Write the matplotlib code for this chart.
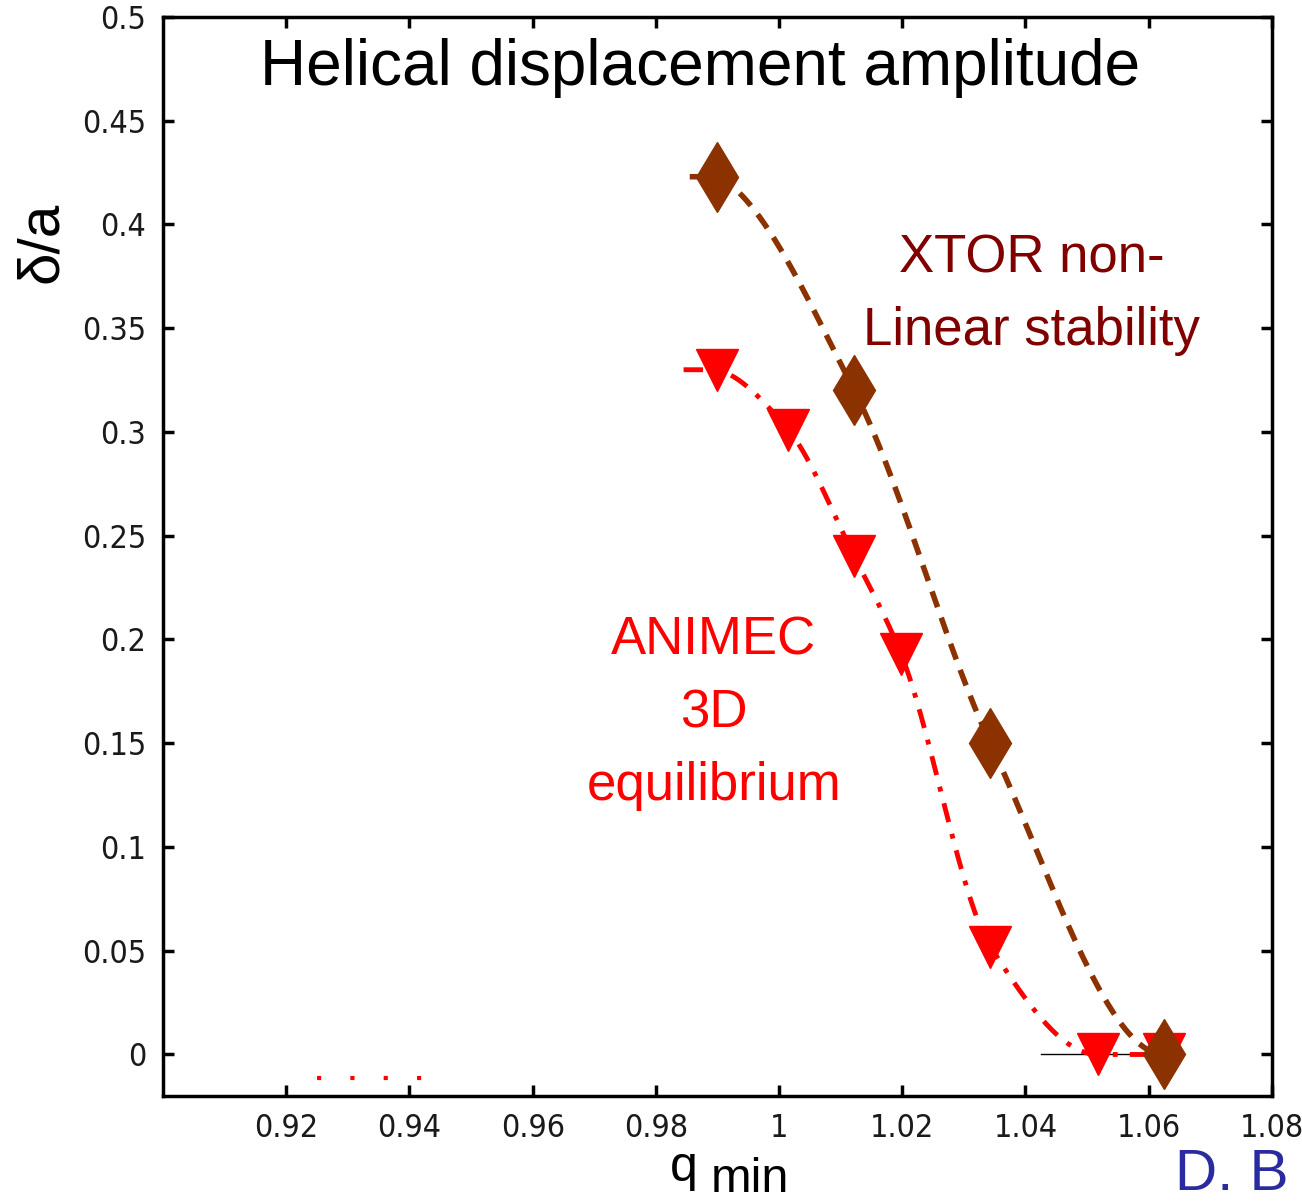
import numpy as np
import matplotlib.pyplot as plt

# data
xtor_q = [0.990, 1.0122, 1.0343, 1.0625]
xtor_d = [0.423, 0.320, 0.150, 0.0]
animec_q = [0.990, 1.0015, 1.0122, 1.0198, 1.0343, 1.0517, 1.0625]
animec_d = [0.330, 0.301, 0.240, 0.193, 0.052, 0.0, 0.0]

x_ticks = [0.92, 0.94, 0.96, 0.98, 1.0, 1.02, 1.04, 1.06, 1.08]
x_ticklabels = ['0.92', '0.94', '0.96', '0.98', '1', '1.02', '1.04', '1.06', '1.08']
y_ticks = [0, 0.05, 0.1, 0.15, 0.2, 0.25, 0.3, 0.35, 0.4, 0.45, 0.5]
y_ticklabels = ['0', '0.05', '0.1', '0.15', '0.2', '0.25', '0.3', '0.35', '0.4', '0.45', '0.5']

brown = '#8C3200'
red = '#FF0000'


def pchip(x, y, n=200):
    # monotone cubic through the points, only used to draw the smooth guide line
    x = np.asarray(x, float)
    y = np.asarray(y, float)
    h = np.diff(x)
    d = np.diff(y) / h
    m = np.zeros_like(y)
    for k in range(1, len(x) - 1):
        if d[k - 1] * d[k] > 0:
            w1 = 2 * h[k] + h[k - 1]
            w2 = h[k] + 2 * h[k - 1]
            m[k] = (w1 + w2) / (w1 / d[k - 1] + w2 / d[k])
    m[0] = d[0] * 0.3
    m[-1] = 0.0
    xs, ys = [], []
    for k in range(len(x) - 1):
        t = np.linspace(0, 1, n)
        h00 = 2 * t**3 - 3 * t**2 + 1
        h10 = t**3 - 2 * t**2 + t
        h01 = -2 * t**3 + 3 * t**2
        h11 = t**3 - t**2
        xs.append(x[k] + t * h[k])
        ys.append(h00 * y[k] + h10 * h[k] * m[k] + h01 * y[k + 1] + h11 * h[k] * m[k + 1])
    return np.concatenate(xs), np.concatenate(ys)


plt.rcParams['font.family'] = ['Liberation Sans', 'DejaVu Sans']

fig = plt.figure(figsize=(13.02, 12.02), dpi=100)
ax = fig.add_axes([0.1252, 0.0882, 0.8517, 0.8977])

# thin zero line at the right end
ax.plot([1.0425, 1.0625], [0, 0], color='black', lw=1.0, zorder=1)

# red curve (dash-dot) and markers
xs, ys = pchip(animec_q, animec_d)
xs = np.concatenate([[animec_q[0] - 0.0055], xs])
ys = np.concatenate([[animec_d[0]], ys])
ax.plot(xs, ys, color=red, lw=3.5, dashes=(4, 2.5, 1, 2.5), zorder=2)
ax.plot(animec_q, animec_d, linestyle='none', marker='v', ms=30,
        color=red, mec=red, zorder=3)

# clipped red bits near the bottom left
ax.plot([0.925, 0.944], [-0.0115, -0.0115], color=red, lw=3,
        dashes=(1, 7), zorder=2)

# brown curve (dashed) and markers
xs, ys = pchip(xtor_q, xtor_d)
xs = np.concatenate([[xtor_q[0] - 0.0045], xs])
ys = np.concatenate([[xtor_d[0]], ys])
ax.plot(xs, ys, color=brown, lw=4, dashes=(3, 2), zorder=4)
ax.plot(xtor_q, xtor_d, linestyle='none', marker='d', ms=36,
        color=brown, mec=brown, zorder=5)

ax.set_xlim(0.9, 1.08)
ax.set_ylim(-0.02, 0.5)
ax.set_xticks(x_ticks)
ax.set_xticklabels(x_ticklabels)
ax.set_yticks(y_ticks)
ax.set_yticklabels(y_ticklabels)

for lab in ax.get_xticklabels() + ax.get_yticklabels():
    lab.set_family(['DejaVu Sans'])
    lab.set_stretch('condensed')
    lab.set_fontsize(23)
    lab.set_color('#1a1a1a')

ax.tick_params(direction='in', length=8, width=2.5, top=True, right=True,
               pad=12)
for s in ax.spines.values():
    s.set_linewidth(2.5)

ax.text(0.484, 0.953, 'Helical displacement amplitude', transform=ax.transAxes,
        ha='center', va='center', fontsize=46, color='black')
ax.text(1.041, 0.366, 'XTOR non-\nLinear stability', ha='center', va='center',
        fontsize=38, color='#800000', linespacing=1.58)
ax.text(0.9894, 0.1644, 'ANIMEC\n3D\nequilibrium', ha='center', va='center',
        fontsize=38, color=red, linespacing=1.58)

fig.text(42 / 1302, 1 - 242 / 1202, 'δ/a', rotation=90, ha='center',
         va='center', fontsize=42)
fig.text(684 / 1302, 1 - 1168 / 1202, 'q', ha='center', va='center',
         fontsize=36)
fig.text(750 / 1302, 1 - 1180 / 1202, 'min', ha='center', va='center',
         fontsize=35)
fig.text(1175 / 1302, 1 - 1190 / 1202, 'D. B', ha='left', va='baseline',
         fontsize=42, color='#2B2BA0')

fig.savefig('out.png', dpi=100)
